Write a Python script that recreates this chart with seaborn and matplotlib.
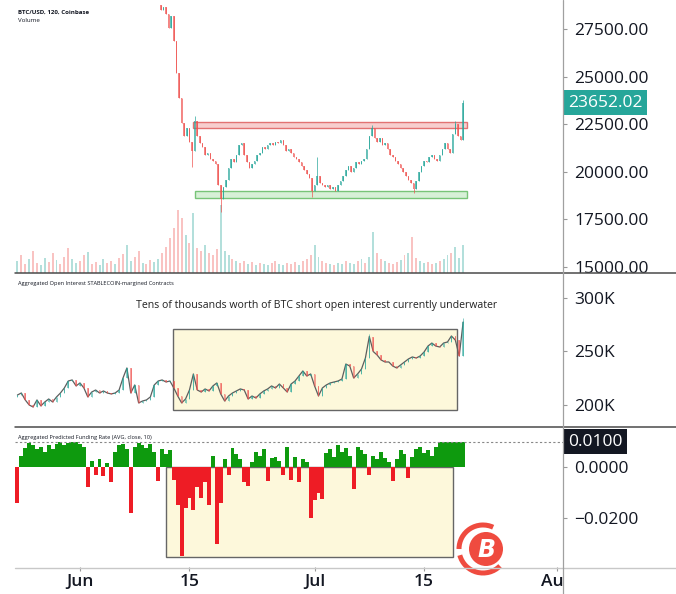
import numpy as np
import pandas as pd
import matplotlib
matplotlib.use("Agg")
import matplotlib.pyplot as plt
import matplotlib.dates as mdates
import matplotlib.transforms as mtransforms
from matplotlib.patches import Rectangle, Circle, Arc
from matplotlib.lines import Line2D
from matplotlib.ticker import FuncFormatter
import seaborn as sns

sns.set_theme(style="white")
plt.rcParams["font.family"] = ["Open Sans", "DejaVu Sans"]

# ---- data ----
# BTC/USD closes, 8h steps from 2022-06-11 08:00
price_close = [
    28500, 28700,
    28300, 27600, 28200, 26900, 25200, 23900, 22600, 21900, 22300,
    21600, 21100, 22700, 21900, 21500, 21300, 20900, 21000, 20700,
    20600, 20400, 19300, 18600, 19200, 19600, 20200, 20700, 20500,
    20900, 21400, 21500, 20900, 20500, 20200, 20400, 20600, 20900,
    21000, 21300, 21200, 21400, 21500, 21400, 21600, 21500, 21700,
    21400, 21100, 21200, 21000, 20800, 20700, 20500, 20300, 20100,
    19900, 19700, 19000, 19300, 19800, 19400, 19300, 19200, 19300,
    19100, 19200, 19000, 19300, 19500, 19800, 20100, 20300, 20000,
    20200, 20500, 20400, 20600, 20700, 21200, 21900, 22300, 21800,
    21600, 21800, 21400, 21500, 21200, 20900, 20800, 20600, 20400,
    20200, 20000, 19800, 19600, 19400, 19100, 19500, 20000, 20300,
    20600, 20500, 20800, 20900, 20700, 20600, 20900, 21200, 21500,
    21200, 21000, 22000, 22500, 21900, 21700,
    23652.02,
]
price_open_first = 28800
price_high_marks = {13: 22950, 60: 20800, 81: 22450, 113: 22700, 116: 23800}
price_low_marks = {12: 20260, 23: 17900, 58: 18700, 97: 18900}
last_price = 23652.02

# volume (12h steps from 2022-05-24), relative units
volume = [
    12, 18, 9, 14, 22, 10, 8, 15, 11, 20,
    13, 9, 16, 25, 14, 10, 12, 18, 21, 9,
    11, 8, 14, 10, 12, 9, 15, 19, 28, 12,
    16, 22, 10, 9, 13, 11, 14, 20, 26, 35,
    45, 63, 55, 38, 30, 60, 25, 22, 28, 20,
    18, 24, 68, 22, 18, 14, 12, 10, 12, 9,
    11, 8, 10, 9, 8, 10, 12, 9, 8, 10,
    9, 11, 8, 12, 14, 18, 28, 16, 12, 10,
    9, 8, 10, 9, 12, 10, 9, 12, 14, 10,
    16, 41, 20, 14, 12, 10, 9, 11, 13, 18,
    20, 36, 15, 12, 10, 11, 9, 10, 12, 14,
    18, 20, 26, 15, 28,
]
volume_dir = ("uddudduudd" "uddduuddud" "duuddudduu" "ddudduuddd"
              "dddududdud" "dduuududdu" "duduudduud" "dduddduudd"
              "uduuduudud" "uuddudddud" "udduuddudu" "uduuu")

# aggregated open interest (K), 12h steps from 2022-05-24
oi_close = [
    209.3, 211.2, 204.7, 200.0, 198.1, 204.7, 199.1, 202.8, 205.6, 202.8,
    207.5, 211.2, 215.9, 222.4, 223.4, 217.8, 220.6, 215.9, 207.5, 212.1,
    214.0, 211.2, 213.1, 211.2, 210.3, 211.2, 214.0, 225.2, 234.6, 211.2,
    218.7, 201.9, 203.7, 204.7, 207.5, 218.7, 222.4, 223.4, 221.5, 222.4,
    215.9, 208.4, 201.9, 205.6, 214.0, 229.0, 214.0, 212.1, 215.0, 213.1,
    217.8, 220.6, 210.3, 203.7, 208.4, 211.2, 213.1, 215.0, 214.0, 205.6,
    208.4, 206.5, 210.3, 213.1, 215.0, 217.8, 215.9, 219.6, 215.9, 212.1,
    219.6, 222.4, 227.1, 231.8, 227.1, 229.0, 217.8, 208.4, 215.9, 218.7,
    220.6, 221.5, 222.4, 224.3, 238.3, 236.4, 225.2, 229.0, 233.6, 243.9,
    264.0, 250.0, 246.7, 242.1, 240.2, 240.2, 236.4, 234.6, 237.4, 240.2,
    243.0, 244.9, 243.9, 245.8, 249.5, 255.1, 257.9, 255.1, 254.2, 257.9,
    258.9, 264.5, 260.7, 245.8, 277.6,
]
oi_open_first = 207.0
oi_high_marks = {90: 266.0, 114: 281.0}

# predicted funding rate, 12h steps from 2022-05-24
funding = [
    -0.0140, 0.0045, 0.0075, 0.0095, 0.0085, 0.0070, 0.0080, 0.0060, 0.0085, 0.0070,
    0.0090, 0.0100, 0.0085, 0.0095, 0.0100, 0.0100, 0.0090, 0.0080, -0.0080, 0.0025,
    -0.0030, 0.0030, -0.0035, 0.0015, -0.0060, 0.0060, 0.0085, 0.0090, 0.0070, -0.0180,
    0.0080, 0.0095, 0.0085, 0.0075, 0.0090, 0.0060, -0.0055, 0.0070, 0.0050, 0.0065,
    -0.0050, -0.0150, -0.0350, -0.0160, -0.0120, -0.0170, -0.0080, -0.0120, -0.0060, -0.0150,
    0.0045, -0.0300, -0.0140, 0.0030, -0.0030, 0.0075, 0.0050, 0.0030, -0.0060, -0.0075,
    0.0020, 0.0060, 0.0045, 0.0070, -0.0055, 0.0035, 0.0040, 0.0025, -0.0030, 0.0080,
    -0.0050, 0.0040, -0.0060, 0.0030, 0.0020, -0.0200, -0.0130, -0.0100, -0.0125, 0.0055,
    0.0070, 0.0040, 0.0085, 0.0060, 0.0075, 0.0045, -0.0088, 0.0080, 0.0065, 0.0050,
    -0.0030, 0.0045, 0.0030, 0.0060, 0.0035, 0.0020, -0.0055, 0.0030, 0.0065, 0.0050,
    -0.0045, 0.0040, 0.0070, 0.0080, 0.0055, 0.0065, 0.0045, 0.0080, 0.0100, 0.0100,
    0.0100, 0.0100, 0.0100, 0.0100, 0.0100,
]

# annotation zones
resist_zone = ("2022-06-15 11:00", "2022-07-20 12:00", 22316, 22631)
support_zone = ("2022-06-15 17:00", "2022-07-20 12:00", 18616, 19000)
oi_zone = ("2022-06-12 21:30", "2022-07-19 05:00", 195.3, 271.0)
funding_zone = ("2022-06-12 00:00", "2022-07-18 17:00", -0.0353, 0.0)

price_ticks = [15000, 17500, 20000, 22500, 25000, 27500]
oi_ticks = [200, 250, 300]
funding_ticks = [0.0, -0.02]
x_ticks = ["2022-06-01", "2022-06-15", "2022-07-01", "2022-07-15", "2022-08-01"]
x_labels = ["Jun", "15", "Jul", "15", "Aug"]

# ---- helpers ----
t_price = mdates.date2num(pd.date_range("2022-06-11 08:00", periods=len(price_close), freq="8h").to_numpy())
t_12h = mdates.date2num(pd.date_range("2022-05-24", periods=len(oi_close), freq="12h").to_numpy())
d = lambda s: mdates.date2num(pd.Timestamp(s).to_datetime64())

UP, DN = "#26a69a", "#ef5350"
TXT = "#131722"


def candles(ax, t, closes, first_open, highs, lows, width, alpha, min_h):
    c = np.asarray(closes, dtype=float)
    o = np.concatenate([[first_open], c[:-1]])
    hi = np.maximum(o, c)
    lo = np.minimum(o, c)
    for k, v in highs.items():
        hi[k] = v
    for k, v in lows.items():
        lo[k] = v
    cols = np.where(c >= o, UP, DN)
    ax.vlines(t, lo, hi, colors=cols, lw=0.7, alpha=alpha, zorder=3)
    ax.bar(t, np.maximum(np.abs(c - o), min_h), bottom=np.minimum(o, c),
           width=width, color=cols, alpha=alpha, lw=0, zorder=4)


def zone(ax, z, fc, ec, lw=1.0, alpha=1.0):
    t0, t1, y0, y1 = d(z[0]), d(z[1]), z[2], z[3]
    ax.add_patch(Rectangle((t0, y0), t1 - t0, y1 - y0, fc=fc, ec=ec, lw=lw,
                           alpha=alpha, zorder=2))


W, H = 676, 594
fig = plt.figure(figsize=(W / 100, H / 100), dpi=100)
fig.patch.set_facecolor("white")
L, R = 15 / W, 563 / W


def rect(top, bot):
    return [L, 1 - bot / H, R - L, (bot - top) / H]


ax_vol = fig.add_axes(rect(0, 273), zorder=0)
ax_p = fig.add_axes(rect(0, 273), sharex=ax_vol, zorder=1)
ax_oi = fig.add_axes(rect(273, 427), sharex=ax_vol, zorder=1)
ax_f = fig.add_axes(rect(427, 567), sharex=ax_vol, zorder=1)

x0 = d("2022-06-01") - 8.31
x1 = d("2022-06-01") + 61.77

# volume
vcols = [UP if ch == "u" else DN for ch in volume_dir]
ax_vol.bar(t_12h, volume, width=0.25, color=vcols, alpha=0.35, lw=0)
ax_vol.set_ylim(0, 273)
ax_vol.axis("off")

# price
ax_p.patch.set_alpha(0)
zone(ax_p, resist_zone, "#f7caca", "#e06666", alpha=0.9)
zone(ax_p, support_zone, "#d3efd3", "#6cbf6c", alpha=0.9)
candles(ax_p, t_price, price_close, price_open_first, price_high_marks,
        price_low_marks, 0.2, 0.7, 40)
ax_p.set_ylim(14684, 29052)
ax_p.set_yticks(price_ticks)
ax_p.yaxis.set_major_formatter(FuncFormatter(lambda v, p: f"{v:.2f}"))

# open interest
zone(ax_oi, oi_zone, "#fdf8db", "#666666", lw=1.0)
sns.lineplot(x=t_12h, y=oi_close, ax=ax_oi, color="#5e5e5e", lw=0.9, zorder=3)
candles(ax_oi, t_12h, oi_close, oi_open_first, oi_high_marks, {}, 0.2, 0.55, 0.3)
ax_oi.set_ylim(179.4, 323.4)
ax_oi.set_yticks(oi_ticks)
ax_oi.yaxis.set_major_formatter(FuncFormatter(lambda v, p: f"{int(v)}K"))
ax_oi.text(0.55, 0.786, "Tens of thousands worth of BTC short open interest currently underwater",
           transform=ax_oi.transAxes, ha="center", va="center", fontsize=7.6, color="#222222")

# funding rate
zone(ax_f, funding_zone, "#fdf8db", "#666666", lw=1.0)
fvals = np.asarray(funding)
ax_f.bar(t_12h, fvals, width=0.5, color=np.where(fvals >= 0, "#0e9a0e", "#ee1c25"),
         lw=0, zorder=3)
ax_f.axhline(0.01, color="#888888", lw=0.8, ls=(0, (2, 2)), zorder=4)
ax_f.set_ylim(-0.0392, 0.01569)
ax_f.set_yticks(funding_ticks)
ax_f.yaxis.set_major_formatter(FuncFormatter(lambda v, p: f"{v:.4f}".replace("-", "\u2212")))

for ax in (ax_p, ax_oi, ax_f):
    ax.set_xlim(x0, x1)
    for s in ax.spines.values():
        s.set_visible(False)
    ax.yaxis.tick_right()
    ax.tick_params(axis="y", right=True, left=False, length=3, width=0.8,
                   color="#999999", pad=5, labelsize=12.5, labelcolor=TXT)
    ax.set_ylabel("")
    ax.grid(False)
for ax in (ax_p, ax_oi):
    ax.tick_params(axis="x", bottom=False, labelbottom=False)
ax_f.set_xticks([d(s) for s in x_ticks])
ax_f.set_xticklabels(x_labels, fontweight="semibold")
ax_f.tick_params(axis="x", bottom=True, length=3, width=0.8, color="#999999",
                 pad=2, labelsize=12.5, labelcolor=TXT)

# last-value labels on the right scale
for ax, val, txt, fc in ((ax_p, last_price, f"{last_price:.2f}", UP),
                         (ax_f, 0.01, "0.0100", TXT)):
    tr = mtransforms.offset_copy(
        mtransforms.blended_transform_factory(ax.transAxes, ax.transData),
        fig=fig, x=5, y=0, units="dots")
    ax.text(1.0, val, txt, transform=tr, ha="left", va="center", fontsize=12.5,
            color="white", zorder=10, clip_on=False,
            bbox=dict(boxstyle="square,pad=0.28", fc=fc, ec="none"))

# panel titles
fig.text(18 / W, 1 - 12 / H, "BTC/USD, 120, Coinbase", fontsize=4.4, fontweight="bold",
         color=TXT, va="center")
fig.text(18 / W, 1 - 21 / H, "Volume", fontsize=4.4, color=TXT, va="center")
fig.text(18 / W, 1 - 283 / H, "Aggregated Open Interest STABLECOIN-margined Contracts",
         fontsize=4.1, color=TXT, va="center")
fig.text(18 / W, 1 - 437 / H, "Aggregated Predicted Funding Rate (AVG, close, 10)",
         fontsize=4.1, color=TXT, va="center")

# frame lines and watermark (pixel overlay)
ov = fig.add_axes([0, 0, 1, 1], zorder=20)
ov.set_xlim(0, W)
ov.set_ylim(H, 0)
ov.axis("off")
ov.patch.set_alpha(0)
ov.add_patch(Rectangle((564, 569), 112, 25, fc="white", ec="none"))
ov.add_line(Line2D([15, W], [273, 273], color="#4a4a4a", lw=1.1))
ov.add_line(Line2D([15, W], [427, 427], color="#4a4a4a", lw=1.1))
ov.add_line(Line2D([15, W], [567.5, 567.5], color="#c8c8c8", lw=1.0))
ov.add_line(Line2D([563, 563], [0, H], color="#a0a0a0", lw=0.9))
ov.add_patch(Circle((486, 549), 17, fc="#ef4b3f", ec="none"))
ov.add_patch(Arc((483, 549), 48, 48, theta1=180, theta2=295, color="#ef4b3f", lw=3.6))
ov.add_patch(Arc((483, 549), 48, 48, theta1=45, theta2=165, color="#ef4b3f", lw=3.6))
ov.text(486, 550, "B", color="white", fontsize=17, fontweight="bold", fontstyle="italic",
        ha="center", va="center", family="DejaVu Sans")

fig.savefig("out.png", dpi=100)
